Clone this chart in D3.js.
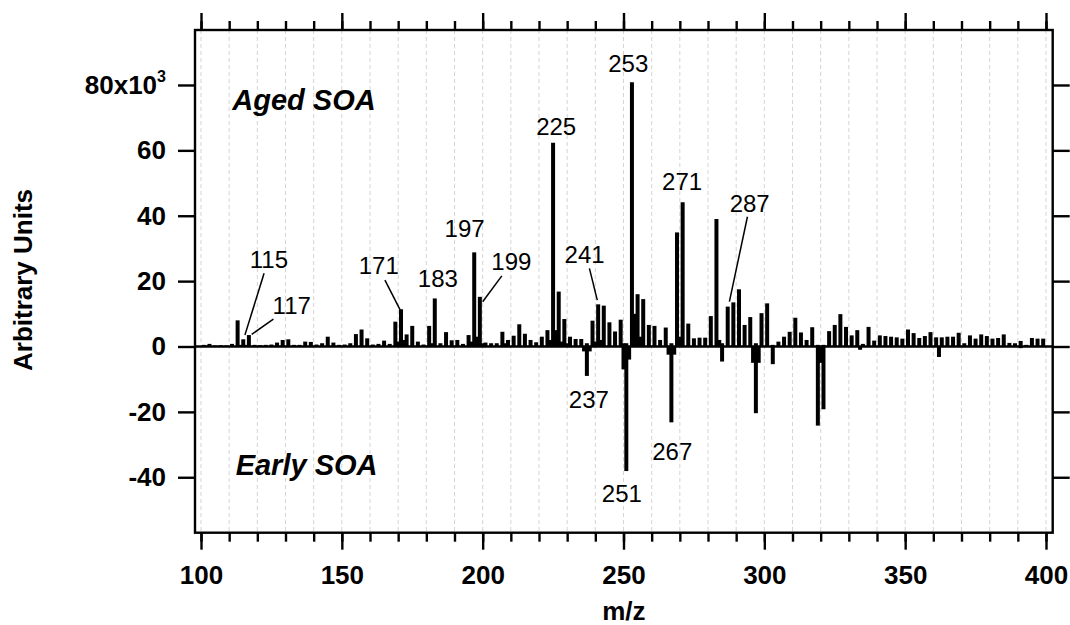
<!DOCTYPE html>
<html>
<head>
<meta charset="utf-8">
<script src="https://cdn.jsdelivr.net/npm/d3@7"></script>
<style>
  html, body { margin: 0; padding: 0; background: #fff; }
  svg { display: block; font-family: Arial, "Liberation Sans", sans-serif; }
</style>
</head>
<body>
<svg id="chart" width="1070" height="625"></svg>
<script>
// ---- DATA (values in units of 10^3) ----
const agedMz = [101,102,103,105,107,109,111,113,114,115,116,117,119,121,123,125,127,129,131,133,135,137,139,141,143,145,147,149,151,153,155,157,159,161,163,165,167,169,170,171,172,173,175,177,179,181,182,183,185,187,189,191,193,195,196,197,198,199,200,201,203,205,207,208,209,211,213,215,217,219,221,223,224,225,226,227,228,229,230,231,233,235,237,239,240,241,242,243,245,247,249,250,251,253,254,255,256,257,259,261,263,265,267,269,270,271,273,275,277,279,281,283,284,285,287,289,291,293,295,297,299,301,303,305,307,309,311,313,315,317,319,321,323,325,327,329,331,333,335,337,339,341,343,345,347,349,351,353,355,357,359,361,363,365,367,369,371,373,375,377,379,381,383,385,387,389,391,393,395,397,399];
const agedVal = [0.5,0.3,0.8,0.3,0.4,0.3,0.8,8.0,0.5,2.2,0.5,3.5,0.5,0.4,0.5,0.6,1.2,2.0,2.2,0.5,0.5,1.5,1.4,0.6,1.0,3.0,1.2,0.5,0.6,1.0,3.8,5.2,2.5,0.6,0.8,1.8,0.8,7.6,1.5,11.4,2.0,3.7,6.3,1.5,0.6,6.3,1.0,14.7,1.0,4.4,1.9,2.0,0.8,3.5,1.5,28.8,3.0,15.2,1.0,1.2,1.0,1.0,4.5,1.0,2.0,3.3,6.8,3.9,2.0,1.3,3.0,5.0,2.0,62.3,5.0,16.8,1.5,8.4,1.0,3.0,2.3,2.3,1.0,7.9,1.5,12.9,2.0,12.5,7.4,4.6,8.2,1.0,1.0,80.8,10.0,16.0,3.0,14.5,6.6,6.3,2.0,5.8,1.0,34.9,3.0,44.1,7.0,2.5,2.7,2.7,9.3,39.0,2.0,1.0,12.2,13.5,17.5,6.6,9.0,1.0,10.2,13.2,0.5,1.5,3.0,4.5,8.8,4.3,2.0,5.9,0.5,0.5,4.7,6.6,9.9,6.0,3.4,5.0,0.8,6.0,1.8,3.4,3.2,3.0,2.8,2.4,5.2,4.1,2.6,3.2,4.4,2.8,2.8,3.0,3.0,4.2,1.0,3.4,2.4,3.7,3.2,2.4,2.6,3.7,1.1,1.0,1.7,0.5,2.6,2.4,2.4];
const earlyMz = [236,237,238,250,251,252,266,267,268,285,296,297,298,303,319,320,321,334,362,391];
const earlyVal = [-1.5,-9.0,-1.5,-7.0,-38.1,-4.0,-2.5,-23.2,-2.5,-4.6,-5.0,-20.4,-5.0,-5.4,-24.2,-5.0,-19.2,-1.0,-3.2,-0.5];

const xMajorTicks = [100,150,200,250,300,350,400];
const xMinorTicks = d3.range(100, 401, 10);
const yTicks = [-40,-20,0,20,40,60,80];
const xTitle = "m/z";
const yTitle = "Arbitrary Units";
const agedLabel = "Aged SOA";
const earlyLabel = "Early SOA";

// peak labels: text, label anchor (mz, value of baseline), optional leader line
const peakLabels = [
  {t:"115", m:124.1, v:23.9, line:[122.4,22.4,115.6,3.5]},
  {t:"117", m:132.2, v:9.9,  line:[125.7,8.4,118.0,3.7]},
  {t:"171", m:163.1, v:22.2, line:[165.3,20.3,170.7,11.2]},
  {t:"183", m:184.1, v:18.3},
  {t:"197", m:193.6, v:33.6},
  {t:"199", m:210.2, v:23.4, line:[206.8,21.6,200.0,13.7]},
  {t:"225", m:226.1, v:64.7},
  {t:"241", m:236.2, v:25.5, line:[237.9,23.9,240.7,14.2]},
  {t:"253", m:251.7, v:83.9},
  {t:"271", m:270.8, v:47.9},
  {t:"287", m:294.8, v:41.2, line:[294.0,39.7,287.6,13.7]},
  {t:"237", m:237.7, v:-18.9},
  {t:"251", m:249.4, v:-47.7},
  {t:"267", m:267.3, v:-34.7}
];

// ---- LAYOUT ----
const L = 195, R = 1052.7, T = 30, B = 532.7;
const x = d3.scaleLinear().domain([97.87, 402.38]).range([L, R]);
const y = d3.scaleLinear().domain([-56.96, 96.82]).range([B, T]);

const svg = d3.select("#chart");

// gridlines
svg.append("g").selectAll("line").data(xMinorTicks).join("line")
  .attr("x1", d => x(d)).attr("x2", d => x(d))
  .attr("y1", T).attr("y2", B)
  .attr("stroke", "#d4d4d4").attr("stroke-width", 1)
  .attr("stroke-dasharray", "4,3");

// sticks
const aged = agedMz.map((m, i) => ({m, v: agedVal[i]}));
const early = earlyMz.map((m, i) => ({m, v: earlyVal[i]}));
const sticks = svg.append("g");
sticks.selectAll("line.a").data(aged).join("line").attr("class","a")
  .attr("x1", d => x(d.m)).attr("x2", d => x(d.m))
  .attr("y1", y(0)).attr("y2", d => y(d.v))
  .attr("stroke", "#000").attr("stroke-width", 4);
sticks.selectAll("line.e").data(early).join("line").attr("class","e")
  .attr("x1", d => x(d.m)).attr("x2", d => x(d.m))
  .attr("y1", y(0)).attr("y2", d => y(d.v))
  .attr("stroke", "#000").attr("stroke-width", 4);

// zero line
svg.append("line")
  .attr("x1", L).attr("x2", R).attr("y1", y(0)).attr("y2", y(0))
  .attr("stroke", "#000").attr("stroke-width", 2.5);

// axes
function styleAxis(g) {
  g.select(".domain").remove();
  g.selectAll(".tick line").attr("stroke", "#000").attr("stroke-width", 2.4);
  g.selectAll("text").attr("fill", "#000").attr("font-size", 26).attr("font-weight", "bold");
}
const fmt = d => String(d);
// bottom
svg.append("g").attr("transform", `translate(0,${B})`)
  .call(d3.axisBottom(x).tickValues(xMinorTicks).tickSize(9).tickFormat(""))
  .call(styleAxis);
const bx = svg.append("g").attr("transform", `translate(0,${B})`)
  .call(d3.axisBottom(x).tickValues(xMajorTicks).tickSize(17).tickPadding(14).tickFormat(fmt))
  .call(styleAxis);
bx.selectAll("text").attr("dy", "0.78em");
// top
svg.append("g").attr("transform", `translate(0,${T})`)
  .call(d3.axisTop(x).tickValues(xMinorTicks).tickSize(9).tickFormat(""))
  .call(styleAxis);
svg.append("g").attr("transform", `translate(0,${T})`)
  .call(d3.axisTop(x).tickValues(xMajorTicks).tickSize(17).tickFormat(""))
  .call(styleAxis);
// left
const ly = svg.append("g").attr("transform", `translate(${L},0)`)
  .call(d3.axisLeft(y).tickValues(yTicks).tickSize(17).tickPadding(12).tickFormat(d => d === 80 ? "80x10" : fmt(d)))
  .call(styleAxis);
ly.selectAll(".tick text").filter(d => d === 80)
  .append("tspan").text("3").attr("font-size", 16).attr("dy", "-0.75em");
// right
svg.append("g").attr("transform", `translate(${R},0)`)
  .call(d3.axisRight(y).tickValues(yTicks).tickSize(17).tickFormat(""))
  .call(styleAxis);

// frame
svg.append("rect").attr("x", L).attr("y", T).attr("width", R - L).attr("height", B - T)
  .attr("fill", "none").attr("stroke", "#000").attr("stroke-width", 2.4);

// axis titles
svg.append("text").attr("x", (L + R) / 2).attr("y", 620)
  .attr("text-anchor", "middle").attr("font-size", 26).attr("font-weight", "bold").text(xTitle);
svg.append("text").attr("transform", `translate(32,280) rotate(-90)`)
  .attr("text-anchor", "middle").attr("font-size", 26).attr("font-weight", "bold").text(yTitle);

// panel labels
svg.append("text").attr("x", x(111.1)).attr("y", y(72.3))
  .attr("font-size", 29).attr("font-weight", "bold").attr("font-style", "italic").text(agedLabel);
svg.append("text").attr("x", x(112.3)).attr("y", y(-39.2))
  .attr("font-size", 29).attr("font-weight", "bold").attr("font-style", "italic").text(earlyLabel);

// peak labels
const pl = svg.append("g");
pl.selectAll("text").data(peakLabels).join("text")
  .attr("x", d => x(d.m)).attr("y", d => y(d.v))
  .attr("text-anchor", "middle").attr("font-size", 24).text(d => d.t);
pl.selectAll("line").data(peakLabels.filter(d => d.line)).join("line")
  .attr("x1", d => x(d.line[0])).attr("y1", d => y(d.line[1]))
  .attr("x2", d => x(d.line[2])).attr("y2", d => y(d.line[3]))
  .attr("stroke", "#000").attr("stroke-width", 1.5);
</script>
</body>
</html>
